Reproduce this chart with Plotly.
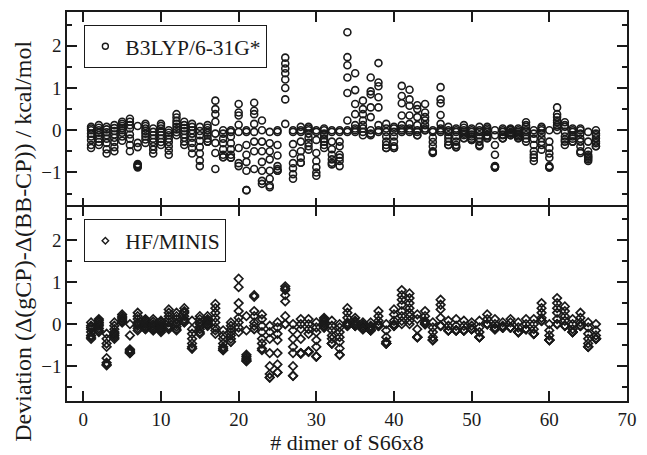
import plotly.graph_objects as go

# Deviation of gCP-corrected from BB-CP interaction energies, 8 points per S66x8 dimer
dimers = list(range(1, 67))

b3lyp_dev = [
    [0.08, 0.04, 0.0, -0.08, -0.15, -0.23, -0.35, -0.42],
    [0.12, 0.06, 0.0, -0.06, -0.12, -0.2, -0.28, -0.35],
    [0.08, 0.02, -0.05, -0.12, -0.2, -0.3, -0.45, -0.55],
    [0.12, 0.05, -0.02, -0.1, -0.18, -0.28, -0.4, -0.5],
    [0.2, 0.15, 0.1, 0.05, 0.0, -0.06, -0.15, -0.25],
    [0.27, 0.2, 0.12, 0.04, -0.1, -0.2, -0.35, -0.5],
    [0.1, -0.3, -0.4, -0.8, -0.82, -0.84, -0.86, -0.88],
    [0.15, 0.1, 0.04, -0.02, -0.08, -0.15, -0.22, -0.3],
    [0.04, -0.04, -0.12, -0.2, -0.28, -0.38, -0.46, -0.55],
    [0.15, 0.1, 0.04, -0.04, -0.12, -0.2, -0.28, -0.35],
    [0.0, -0.06, -0.12, -0.2, -0.28, -0.38, -0.48, -0.58],
    [0.38, 0.3, 0.22, 0.15, 0.08, 0.02, -0.05, -0.12],
    [0.2, 0.12, 0.05, -0.02, -0.1, -0.18, -0.27, -0.35],
    [0.15, 0.08, 0.0, -0.08, -0.18, -0.3, -0.42, -0.55],
    [0.08, -0.02, -0.12, -0.25, -0.4, -0.55, -0.72, -0.85],
    [0.12, 0.06, 0.0, -0.06, -0.12, -0.2, -0.27, -0.27],
    [0.7, 0.5, 0.38, 0.2, -0.08, -0.3, -0.54, -0.92],
    [0.0, -0.08, -0.2, -0.31, -0.45, -0.58, -0.64, -0.64],
    [0.0, -0.04, -0.15, -0.31, -0.45, -0.58, -0.65, -0.65],
    [0.62, 0.42, 0.35, 0.13, -0.04, -0.42, -0.78, -0.85],
    [0.0, -0.04, -0.35, -0.58, -0.75, -0.96, -1.42, -1.42],
    [0.65, 0.46, 0.38, 0.15, -0.04, -0.27, -0.5, -0.92],
    [0.23, 0.0, -0.27, -0.5, -0.75, -0.96, -1.2, -1.27],
    [-0.04, -0.31, -0.5, -0.69, -0.96, -1.15, -1.31, -1.35],
    [0.0, -0.04, -0.35, -0.6, -0.85, -0.92, -0.96, -0.96],
    [1.72, 1.58, 1.46, 1.35, 1.2, 1.0, 0.73, 0.15],
    [0.0, -0.04, -0.33, -0.55, -0.78, -0.9, -1.04, -1.15],
    [0.08, 0.0, -0.04, -0.27, -0.5, -0.65, -0.77, -0.77],
    [0.08, 0.04, 0.0, -0.08, -0.18, -0.3, -0.38, -0.46],
    [0.0, -0.04, -0.23, -0.54, -0.73, -0.88, -1.0, -1.08],
    [0.04, 0.0, -0.08, -0.12, -0.2, -0.27, -0.35, -0.42],
    [0.0, -0.04, -0.27, -0.45, -0.58, -0.69, -0.77, -0.81],
    [0.0, -0.04, -0.27, -0.38, -0.58, -0.65, -0.73, -0.85],
    [2.32, 1.73, 1.54, 1.25, 0.88, 0.23, 0.0, -0.04],
    [1.35, 0.95, 0.62, 0.38, 0.12, 0.04, 0.0, -0.04],
    [0.7, 0.5, 0.38, 0.23, 0.12, 0.04, -0.04, -0.12],
    [1.25, 0.92, 0.85, 0.54, 0.31, 0.0, -0.08, -0.12],
    [1.59, 1.13, 1.04, 0.78, 0.54, 0.12, 0.0, -0.04],
    [0.15, 0.04, -0.04, -0.15, -0.27, -0.35, -0.42, -0.42],
    [0.08, 0.04, -0.04, -0.15, -0.27, -0.38, -0.42, -0.42],
    [1.05, 0.81, 0.64, 0.35, 0.12, 0.04, 0.0, -0.04],
    [0.96, 0.73, 0.58, 0.35, 0.15, 0.04, 0.0, -0.04],
    [0.59, 0.5, 0.31, 0.12, 0.0, -0.04, -0.12, -0.12],
    [0.62, 0.42, 0.31, 0.23, 0.12, 0.04, 0.0, 0.0],
    [0.0, -0.04, -0.18, -0.28, -0.38, -0.5, -0.52, -0.54],
    [1.02, 0.73, 0.64, 0.36, 0.15, 0.04, 0.0, -0.04],
    [0.08, 0.0, -0.04, -0.12, -0.19, -0.27, -0.35, -0.35],
    [0.04, 0.0, -0.04, -0.15, -0.27, -0.35, -0.4, -0.4],
    [0.12, 0.06, 0.0, -0.04, -0.08, -0.12, -0.19, -0.19],
    [0.04, 0.0, -0.04, -0.1, -0.15, -0.2, -0.23, -0.23],
    [0.08, 0.0, -0.04, -0.12, -0.19, -0.27, -0.35, -0.38],
    [0.08, 0.04, 0.0, -0.04, -0.12, -0.15, -0.19, -0.19],
    [0.0, -0.12, -0.35, -0.58, -0.85, -0.86, -0.88, -0.88],
    [0.04, 0.0, -0.04, -0.1, -0.12, -0.19, -0.19, -0.19],
    [0.04, 0.02, 0.0, -0.04, -0.06, -0.08, -0.12, -0.12],
    [0.04, 0.0, -0.04, -0.08, -0.12, -0.15, -0.19, -0.19],
    [0.19, 0.12, 0.08, 0.0, -0.04, -0.12, -0.2, -0.27],
    [0.0, -0.08, -0.2, -0.35, -0.5, -0.58, -0.65, -0.73],
    [0.08, 0.04, 0.0, -0.08, -0.19, -0.28, -0.35, -0.46],
    [0.0, -0.27, -0.42, -0.55, -0.65, -0.85, -0.88, -0.88],
    [0.54, 0.38, 0.31, 0.23, 0.19, 0.12, 0.08, 0.0],
    [0.19, 0.12, 0.08, -0.04, -0.15, -0.22, -0.27, -0.35],
    [0.04, 0.0, -0.04, -0.12, -0.15, -0.2, -0.27, -0.27],
    [0.04, 0.0, -0.08, -0.2, -0.27, -0.38, -0.5, -0.54],
    [-0.04, -0.27, -0.5, -0.58, -0.62, -0.65, -0.69, -0.73],
    [0.0, -0.08, -0.12, -0.19, -0.27, -0.31, -0.38, -0.38],
]

hf_dev = [
    [0.04, -0.04, -0.08, -0.12, -0.19, -0.27, -0.31, -0.35],
    [0.12, 0.08, 0.04, 0.0, -0.04, -0.1, -0.15, -0.19],
    [-0.23, -0.35, -0.46, -0.54, -0.81, -0.92, -0.96, -0.98],
    [0.04, -0.04, -0.12, -0.19, -0.23, -0.27, -0.31, -0.35],
    [0.23, 0.19, 0.15, 0.12, 0.08, 0.06, 0.04, 0.04],
    [0.0, -0.27, -0.6, -0.62, -0.65, -0.67, -0.69, -0.69],
    [0.27, 0.19, 0.12, 0.04, 0.0, -0.04, -0.1, -0.15],
    [0.12, 0.08, 0.04, 0.0, -0.04, -0.08, -0.12, -0.12],
    [0.12, 0.06, 0.0, -0.04, -0.08, -0.12, -0.15, -0.15],
    [0.08, 0.04, 0.0, -0.04, -0.08, -0.12, -0.15, -0.19],
    [0.35, 0.27, 0.19, 0.12, 0.04, -0.04, -0.08, -0.12],
    [0.27, 0.19, 0.12, 0.04, 0.0, -0.06, -0.12, -0.15],
    [0.38, 0.31, 0.27, 0.19, 0.12, 0.08, 0.04, 0.04],
    [0.08, -0.12, -0.23, -0.35, -0.46, -0.54, -0.58, -0.58],
    [0.19, 0.12, 0.04, 0.0, -0.06, -0.12, -0.19, -0.23],
    [0.19, 0.12, 0.08, 0.04, 0.0, -0.02, -0.04, -0.04],
    [0.48, 0.38, 0.27, 0.15, 0.04, -0.08, -0.15, -0.23],
    [-0.15, -0.27, -0.35, -0.46, -0.54, -0.58, -0.62, -0.62],
    [0.04, -0.04, -0.12, -0.19, -0.27, -0.35, -0.42, -0.42],
    [1.08, 0.88, 0.5, 0.31, 0.15, 0.04, -0.08, -0.19],
    [0.19, -0.15, -0.73, -0.77, -0.81, -0.85, -0.88, -0.88],
    [0.69, 0.65, 0.31, 0.19, 0.04, -0.04, -0.12, -0.12],
    [0.23, 0.12, -0.04, -0.19, -0.35, -0.46, -0.58, -0.62],
    [-0.04, -0.19, -0.35, -0.69, -1.0, -1.19, -1.27, -1.27],
    [0.04, -0.08, -0.23, -0.38, -0.69, -0.96, -1.15, -1.15],
    [0.9, 0.85, 0.81, 0.69, 0.54, 0.19, 0.0, 0.0],
    [0.0, -0.15, -0.35, -0.54, -0.69, -1.0, -1.23, -1.23],
    [0.12, 0.0, -0.12, -0.35, -0.69, -0.69, -0.7, -0.7],
    [0.12, 0.0, -0.12, -0.23, -0.65, -0.65, -0.66, -0.66],
    [0.04, -0.08, -0.19, -0.38, -0.54, -0.77, -0.77, -0.77],
    [0.15, 0.12, 0.08, 0.04, 0.0, -0.04, -0.08, -0.08],
    [0.08, -0.04, -0.15, -0.27, -0.35, -0.46, -0.46, -0.46],
    [0.0, -0.08, -0.19, -0.31, -0.42, -0.58, -0.73, -0.73],
    [0.38, 0.27, 0.15, 0.04, 0.0, -0.04, -0.04, -0.04],
    [0.15, 0.08, 0.04, 0.0, -0.04, -0.04, -0.04, -0.04],
    [0.04, 0.0, -0.04, -0.08, -0.12, -0.12, -0.12, -0.12],
    [0.04, -0.04, -0.08, -0.12, -0.15, -0.15, -0.15, -0.15],
    [0.31, 0.19, 0.08, 0.0, -0.04, -0.04, -0.04, -0.04],
    [0.0, -0.15, -0.31, -0.42, -0.46, -0.46, -0.46, -0.46],
    [0.35, 0.23, 0.08, 0.0, -0.04, -0.04, -0.04, -0.04],
    [0.81, 0.69, 0.58, 0.46, 0.31, 0.19, 0.08, 0.0],
    [0.73, 0.62, 0.5, 0.38, 0.27, 0.19, 0.08, 0.0],
    [0.23, 0.12, -0.12, -0.31, -0.31, -0.31, -0.31, -0.31],
    [0.31, 0.19, 0.08, 0.04, 0.0, 0.0, 0.0, 0.0],
    [0.04, -0.08, -0.19, -0.31, -0.38, -0.38, -0.38, -0.38],
    [0.58, 0.46, 0.35, 0.15, -0.04, -0.04, -0.04, -0.04],
    [0.08, -0.04, -0.15, -0.15, -0.15, -0.15, -0.15, -0.15],
    [0.12, -0.04, -0.15, -0.15, -0.15, -0.15, -0.15, -0.15],
    [0.08, -0.04, -0.15, -0.15, -0.15, -0.15, -0.15, -0.15],
    [0.04, -0.04, -0.12, -0.12, -0.12, -0.12, -0.12, -0.12],
    [0.08, -0.08, -0.19, -0.31, -0.31, -0.31, -0.31, -0.31],
    [0.23, 0.12, 0.0, 0.0, 0.0, 0.0, 0.0, 0.0],
    [0.12, 0.0, -0.08, -0.12, -0.12, -0.12, -0.12, -0.12],
    [0.04, -0.04, -0.08, -0.08, -0.08, -0.08, -0.08, -0.08],
    [0.12, 0.04, -0.08, -0.08, -0.08, -0.08, -0.08, -0.08],
    [0.04, -0.08, -0.19, -0.19, -0.19, -0.19, -0.19, -0.19],
    [0.12, 0.0, -0.12, -0.12, -0.12, -0.12, -0.12, -0.12],
    [0.12, 0.0, -0.12, -0.23, -0.23, -0.23, -0.23, -0.23],
    [0.5, 0.38, 0.27, 0.15, 0.08, 0.08, 0.08, 0.08],
    [0.0, -0.15, -0.27, -0.38, -0.38, -0.38, -0.38, -0.38],
    [0.62, 0.5, 0.38, 0.27, 0.12, 0.0, 0.0, 0.0],
    [0.42, 0.31, 0.19, 0.08, -0.04, -0.04, -0.04, -0.04],
    [0.12, 0.0, -0.12, -0.19, -0.19, -0.19, -0.19, -0.19],
    [0.27, 0.15, 0.04, -0.04, -0.04, -0.04, -0.04, -0.04],
    [0.04, -0.08, -0.23, -0.35, -0.46, -0.54, -0.54, -0.54],
    [0.0, -0.15, -0.27, -0.35, -0.35, -0.35, -0.35, -0.35],
]

FONT = "Liberation Serif, Tinos, Times New Roman, Times, DejaVu Serif, serif"
INK = "#1a1a1a"


def flatten(rows):
    xs, ys = [], []
    for d, vals in zip(dimers, rows):
        for v in vals:
            xs.append(d)
            ys.append(v)
    return xs, ys


x1, y1 = flatten(b3lyp_dev)
x2, y2 = flatten(hf_dev)

circle = dict(symbol="circle-open", size=7, color=INK, line=dict(width=1.6))
diamond = dict(symbol="diamond-open", size=6.5, color=INK, line=dict(width=1.7))

fig = go.Figure()
fig.add_trace(go.Scatter(x=x1, y=y1, mode="markers", marker=circle,
                         xaxis="x", yaxis="y", showlegend=False))
fig.add_trace(go.Scatter(x=x2, y=y2, mode="markers", marker=diamond,
                         xaxis="x2", yaxis="y2", showlegend=False))
# legend entries with a smaller symbol than the data markers
fig.add_trace(go.Scatter(x=[None], y=[None], mode="markers", name="B3LYP/6-31G*",
                         marker=dict(circle, size=6, line=dict(width=1.4)),
                         xaxis="x", yaxis="y", legend="legend", showlegend=True))
fig.add_trace(go.Scatter(x=[None], y=[None], mode="markers", name="HF/MINIS",
                         marker=dict(diamond, size=5, line=dict(width=1.4)),
                         xaxis="x2", yaxis="y2", legend="legend2", showlegend=True))

xcommon = dict(
    range=[-2.1, 70], dtick=10, tick0=0, ticks="inside", ticklen=10, tickwidth=1.5,
    showline=True, linewidth=1.5, linecolor=INK, mirror="ticks",
    showgrid=False, zeroline=False, tickcolor=INK,
    tickfont=dict(family=FONT, size=19, color=INK),
)
ycommon = dict(
    range=[-1.83, 2.8], tickvals=[-1, 0, 1, 2], ticks="inside", ticklen=10, tickwidth=1.5,
    showline=True, linewidth=1.5, linecolor=INK, mirror="ticks",
    showgrid=False, zeroline=False, tickcolor=INK,
    minor=dict(dtick=0.5, tick0=0, ticks="inside", ticklen=5, tickwidth=1.5, tickcolor=INK),
    tickfont=dict(family=FONT, size=19, color=INK),
)

legend_common = dict(
    xanchor="left", yanchor="top", bgcolor="white",
    bordercolor=INK, borderwidth=1,
    font=dict(family=FONT, size=21.5, color=INK),
    itemwidth=30,
)

fig.update_layout(
    width=647, height=455,
    margin=dict(l=67, r=11, t=10, b=44),
    paper_bgcolor="white", plot_bgcolor="white",
    font=dict(family=FONT, color=INK),
    showlegend=True,
    xaxis=dict(xcommon, anchor="y", showticklabels=False, matches="x2"),
    yaxis=dict(ycommon, domain=[0.4975, 1], anchor="x"),
    xaxis2=dict(xcommon, anchor="y2",
                title=dict(text="# dimer of S66x8", font=dict(family=FONT, size=22, color=INK),
                           standoff=0)),
    yaxis2=dict(ycommon, domain=[0, 0.5], anchor="x2"),
    legend=dict(legend_common, x=0.031, y=0.967),
    legend2=dict(legend_common, x=0.031, y=0.467),
    annotations=[dict(
        text="Deviation (Δ(gCP)-Δ(BB-CP)) / kcal/mol",
        xref="paper", yref="paper", x=-0.08, y=0.41, textangle=-90,
        showarrow=False, xanchor="center", yanchor="middle",
        font=dict(family=FONT, size=24, color=INK),
    )],
)

fig.write_html("out.html")
